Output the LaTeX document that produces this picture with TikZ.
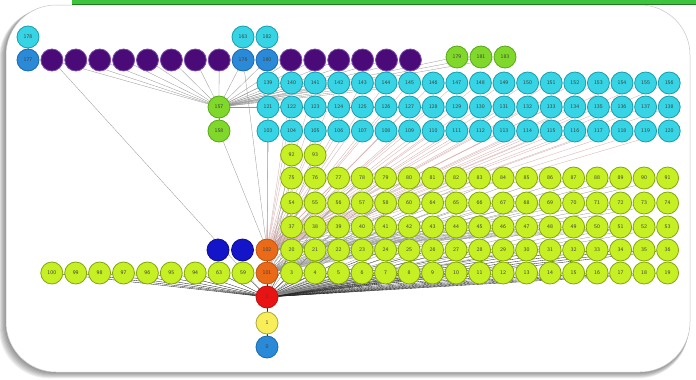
\documentclass[tikz,border=0pt]{standalone}
\pgfdeclarelayer{card}
\pgfdeclarelayer{edges}
\pgfsetlayers{card,edges,main}
\definecolor{ylw}{HTML}{C6F024}
\definecolor{ylwd}{HTML}{84A410}
\definecolor{cyn}{HTML}{36D4E4}
\definecolor{cynd}{HTML}{1A9CAC}
\definecolor{prp}{HTML}{4A0A78}
\definecolor{prpd}{HTML}{7A4AAA}
\definecolor{blu}{HTML}{2A8AD8}
\definecolor{blud}{HTML}{1A6AB0}
\definecolor{dbl}{HTML}{1414C8}
\definecolor{grn}{HTML}{80D82A}
\definecolor{grnd}{HTML}{58A818}
\definecolor{org}{HTML}{EA6A18}
\definecolor{rd}{HTML}{E81414}
\definecolor{yl}{HTML}{F7EE5A}
\definecolor{bar}{HTML}{3CC43C}
\begin{document}
\begin{tikzpicture}[x=1pt,y=-1pt,
  nd/.style={circle, minimum size=22pt, inner sep=0pt, line width=0.8pt,
    font=\fontsize{5.5}{6}\selectfont\sffamily, text=black!75},
  ynd/.style={nd, fill=ylw, draw=ylwd},
  cnd/.style={nd, fill=cyn, draw=cynd},
  pnd/.style={nd, fill=prp, draw=prpd},
  bnd/.style={nd, fill=blu, draw=blud},
  dnd/.style={nd, fill=dbl, draw=dbl!70!black},
  gnd/.style={nd, fill=grn, draw=grnd},
  ond/.style={nd, fill=org, draw=org!80!black},
  rnd/.style={nd, fill=rd, draw=rd!80!black},
  lnd/.style={nd, fill=yl, draw=yl!70!black},
  ed/.style={draw=gray!85, line width=0.3pt},
  hub/.style={draw=black!85, line width=0.35pt},
  lt/.style={draw=gray!65!red!45, line width=0.35pt}]
\useasboundingbox (0,0) rectangle (696,380);
\begin{pgfonlayer}{card}
  \foreach \i in {1,...,7}
    \fill[black, opacity=0.07, rounded corners=50pt]
      (6-\i*1.0,5+\i*0.5) rectangle (690-\i*0.2,372+\i*0.9);
  \filldraw[fill=white, draw=gray!45, line width=0.5pt, rounded corners=50pt]
    (6,5) rectangle (690,372);
  \fill[bar] (72,0) rectangle (696,4.5);
  \draw[bar!60!black, line width=0.4pt] (72,4.5) -- (696,4.5);
\end{pgfonlayer}
% cyan grid
\foreach \c in {0,...,17}{
  \pgfmathtruncatemacro\la{139+\c}
  \pgfmathtruncatemacro\lb{121+\c}
  \pgfmathtruncatemacro\lc{103+\c}
  \node[cnd] (ca\c) at (268+23.6*\c,83) {\la};
  \node[cnd] (cb\c) at (268+23.6*\c,107) {\lb};
  \node[cnd] (cc\c) at (268+23.6*\c,131) {\lc};
}
% yellow grid
\foreach \c in {0,...,16}{
  \pgfmathtruncatemacro\la{3+\c}
  \pgfmathtruncatemacro\lb{20+\c}
  \pgfmathtruncatemacro\lc{37+\c}
  \pgfmathtruncatemacro\ld{75+\c}
  \node[ynd] (ya\c) at (291.6+23.5*\c,273) {\la};
  \node[ynd] (yb\c) at (291.6+23.5*\c,250) {\lb};
  \node[ynd] (yc\c) at (291.6+23.5*\c,227) {\lc};
  \node[ynd] (ye\c) at (291.6+23.5*\c,178) {\ld};
}
\foreach \l [count=\c from 0] in {54,55,56,57,58,60,64,65,66,67,68,69,70,71,72,73,74}
  \node[ynd] (yd\c) at (291.6+23.5*\c,203) {\l};
\node[ynd] (yf0) at (291.6,155) {92};
\node[ynd] (yf1) at (315.1,155) {93};
% left row
\foreach \l [count=\k from 0] in {59,63,94,95,96,97,98,99,100}
  \node[ynd] (lf\k) at (243-23.9*\k,273) {\l};
% hub column
\node[ond] (o1) at (267,250) {102};
\node[ond] (o2) at (267,273) {101};
\node[rnd] (rr) at (267,297) {2};
\node[lnd] (l1) at (267,323) {1};
\node[bnd] (b0) at (267,347) {0};
\node[dnd] (d0) at (218,250) {};
\node[dnd] (d1) at (242.5,250) {};
% top row
\foreach \k in {1,2,3,4,5,6,7,8,11,12,13,14,15,16}
  \node[pnd] (p\k) at (28+23.9*\k,60) {};
\node[bnd] (p0) at (28,60) {177};
\node[bnd] (p9) at (243.1,60) {176};
\node[bnd] (p10) at (267,60) {180};
\node[cnd] (t0) at (28,37) {178};
\node[cnd] (t1) at (243,37) {163};
\node[cnd] (t2) at (267,37) {182};
% green
\node[gnd] (g1) at (219,107) {157};
\node[gnd] (g2) at (219,131) {158};
\node[gnd] (g3) at (457,57) {179};
\node[gnd] (g4) at (481,57) {181};
\node[gnd] (g5) at (505,57) {183};
% edges
\begin{pgfonlayer}{edges}
  \foreach \k in {1,...,16} \draw[ed] (g1) -- (p\k);
  \foreach \c in {0,...,7} {\draw[ed] (g1) -- (ca\c); \draw[ed] (g1) -- (cb\c);}
  \foreach \n in {g3,g4,g5} \draw[ed] (g1) -- (\n);
  \draw[ed] (t0) -- (p0);
  \draw[ed] (t1) -- (p9);
  \draw[ed] (t2) -- (p10);
  \draw[ed] (g1) -- (g2);
  \draw[ed] (g2) -- (o1);
  \draw[ed] (p9) -- (o1);
  \draw[hub] (p10) -- (ca0) -- (cb0) -- (cc0) -- (o1);
  \draw[ed] (p1) -- (rr);
  \foreach \c in {0,...,17}{
    \draw[lt] (o1) -- (ca\c);
    \draw[lt] (o1) -- (cb\c);
    \draw[lt] (o1) -- (cc\c);
  }
  \foreach \c in {0,...,16}{
    \draw[hub] (rr) -- (ya\c);
    \draw[hub] (rr) -- (yb\c);
    \draw[ed] (rr) -- (yc\c);
    \draw[ed] (o2) -- (yd\c);
    \draw[ed] (o2) -- (ye\c);
    \draw[ed] (o1) -- (yc\c);
  }
  \draw[ed] (o2) -- (yf0);
  \draw[ed] (o2) -- (yf1);
  \foreach \k in {0,...,8} \draw[hub] (rr) -- (lf\k);
  \draw[hub] (o1) -- (o2) -- (rr) -- (l1) -- (b0);
\end{pgfonlayer}
\end{tikzpicture}
\end{document}
